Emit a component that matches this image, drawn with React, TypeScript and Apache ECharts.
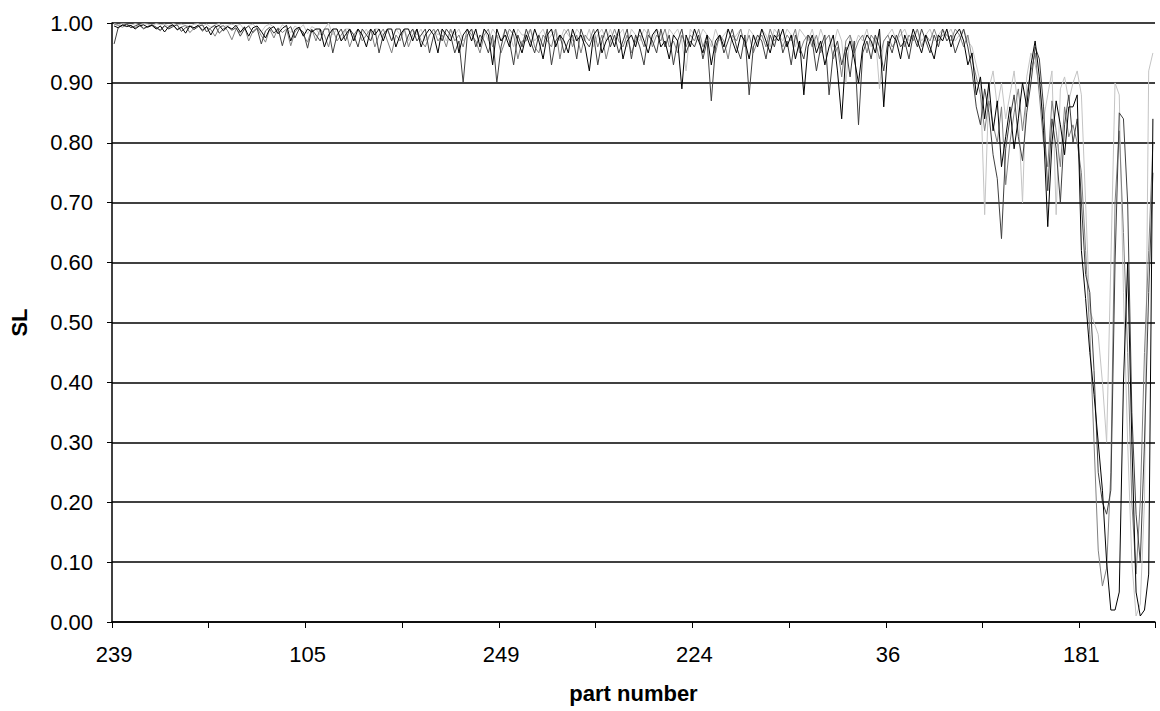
import React, { useEffect, useRef } from "react";
import * as echarts from "echarts";

// Visible part-number labels (every 46th category)
const partLabels = ["239", "105", "249", "224", "36", "181"];
const labelStep = 46;
const tickStep = 23;

// Series values (SL per part)
const seriesBlack = [
  0.995, 0.992, 0.997, 0.994, 0.996, 0.990, 0.995, 0.997, 0.993, 0.996,
  0.990, 0.995, 0.985, 0.994, 0.997, 0.989, 0.993, 0.983, 0.995,
  0.992, 0.996, 0.988, 0.994, 0.980, 0.993, 0.996, 0.987, 0.994, 0.990,
  0.996, 0.985, 0.993, 0.978, 0.992, 0.995, 0.986, 0.975, 0.990,
  0.994, 0.982, 0.991, 0.996, 0.970, 0.989, 0.993, 0.978, 0.990, 0.985,
  0.99, 0.99, 0.96, 0.98, 0.99, 0.99, 0.97, 0.98, 0.99, 0.97,
  0.99, 0.98, 0.96, 0.99, 0.98, 0.99, 0.97, 0.99, 0.99, 0.96,
  0.98, 0.99, 0.99, 0.97, 0.99, 0.96, 0.98, 0.99, 0.98, 0.95,
  0.99, 0.98, 0.97, 0.99, 0.95, 0.98, 0.99, 0.97, 0.99, 0.96,
  0.99, 0.98, 0.93, 0.99, 0.97, 0.98, 0.96, 0.99, 0.97, 0.95,
  0.98, 0.96, 0.99, 0.97, 0.94, 0.98, 0.99, 0.96, 0.98, 0.97,
  0.95, 0.99, 0.97, 0.98, 0.96, 0.92, 0.98, 0.99, 0.95, 0.97,
  0.98, 0.96, 0.99, 0.94, 0.97, 0.98, 0.96, 0.99, 0.97, 0.95,
  0.98, 0.99, 0.96, 0.97, 0.94, 0.98, 0.97, 0.89, 0.98, 0.96,
  0.99, 0.97, 0.95, 0.98, 0.93, 0.97, 0.98, 0.96, 0.99, 0.97,
  0.95, 0.98, 0.97, 0.94, 0.98, 0.96, 0.99, 0.97, 0.95, 0.98,
  0.97, 0.99, 0.96, 0.98, 0.94, 0.97, 0.88, 0.96, 0.98, 0.95,
  0.97, 0.93, 0.96, 0.98, 0.92, 0.84, 0.95, 0.97, 0.94, 0.90,
  0.96, 0.98, 0.97, 0.95, 0.99, 0.86, 0.96, 0.98, 0.97, 0.94,
  0.98, 0.96, 0.99, 0.97, 0.95, 0.98, 0.96, 0.94, 0.98, 0.97,
  0.99, 0.96, 0.98, 0.99, 0.97, 0.93, 0.95, 0.88, 0.91, 0.84,
  0.90, 0.82, 0.87, 0.76, 0.81, 0.86, 0.79, 0.84, 0.90, 0.86,
  0.93, 0.97, 0.91, 0.82, 0.66, 0.80, 0.87, 0.83, 0.78, 0.86,
  0.86, 0.88, 0.62, 0.54, 0.45, 0.38, 0.30, 0.22, 0.10, 0.02,
  0.02, 0.05, 0.40, 0.60, 0.30, 0.05, 0.01, 0.02, 0.08, 0.84,
];

const seriesDark = [
  0.965, 0.993, 0.996, 0.998, 0.992, 0.995, 0.998, 0.991, 0.994, 0.997,
  0.993, 0.988, 0.996, 0.990, 0.994, 0.997, 0.986, 0.992, 0.995,
  0.989, 0.994, 0.997, 0.985, 0.992, 0.996, 0.983, 0.990, 0.994, 0.988,
  0.992, 0.978, 0.990, 0.995, 0.984, 0.991, 0.965, 0.987, 0.993,
  0.983, 0.991, 0.962, 0.988, 0.994, 0.975, 0.990, 0.985, 0.958, 0.989,
  0.98, 0.97, 0.99, 0.99, 0.95, 0.98, 0.99, 0.97, 0.99, 0.98,
  0.96, 0.99, 0.98, 0.97, 0.99, 0.95, 0.98, 0.99, 0.97, 0.99,
  0.99, 0.96, 0.98, 0.99, 0.97, 0.98, 0.99, 0.95, 0.98, 0.99,
  0.97, 0.99, 0.98, 0.95, 0.97, 0.90, 0.98, 0.99, 0.96, 0.98,
  0.97, 0.95, 0.98, 0.90, 0.96, 0.99, 0.97, 0.93, 0.98, 0.96,
  0.99, 0.97, 0.95, 0.98, 0.96, 0.99, 0.93, 0.97, 0.98, 0.95,
  0.97, 0.98, 0.94, 0.99, 0.97, 0.96, 0.98, 0.93, 0.97, 0.99,
  0.96, 0.98, 0.95, 0.97, 0.99, 0.94, 0.98, 0.96, 0.93, 0.98,
  0.97, 0.95, 0.99, 0.96, 0.98, 0.93, 0.97, 0.99, 0.95, 0.97,
  0.96, 0.98, 0.94, 0.97, 0.87, 0.96, 0.98, 0.95, 0.97, 0.99,
  0.96, 0.94, 0.98, 0.88, 0.96, 0.98, 0.97, 0.94, 0.98, 0.96,
  0.99, 0.95, 0.97, 0.93, 0.98, 0.96, 0.94, 0.98, 0.97, 0.92,
  0.96, 0.98, 0.88, 0.95, 0.97, 0.93, 0.96, 0.91, 0.97, 0.83,
  0.95, 0.97, 0.94, 0.98, 0.96, 0.92, 0.97, 0.95, 0.98, 0.96,
  0.97, 0.94, 0.98, 0.96, 0.99, 0.97, 0.95, 0.98, 0.96, 0.99,
  0.97, 0.98, 0.95, 0.97, 0.99, 0.96, 0.92, 0.86, 0.83, 0.89,
  0.85, 0.78, 0.74, 0.64, 0.79, 0.84, 0.88, 0.81, 0.77, 0.85,
  0.90, 0.96, 0.94, 0.86, 0.72, 0.84, 0.79, 0.70, 0.83, 0.88,
  0.80, 0.84, 0.70, 0.58, 0.55, 0.42, 0.25, 0.20, 0.18, 0.22,
  0.60, 0.85, 0.84, 0.70, 0.35, 0.18, 0.10, 0.30, 0.55, 0.75,
];

const seriesGray = [
  0.998, 0.996, 0.993, 0.997, 0.995, 0.992, 0.996, 0.990, 0.994, 0.997,
  0.992, 0.987, 0.995, 0.991, 0.997, 0.988, 0.993, 0.996, 0.984,
  0.991, 0.996, 0.986, 0.993, 0.989, 0.978, 0.992, 0.996, 0.987, 0.972,
  0.990, 0.983, 0.994, 0.970, 0.986, 0.992, 0.979, 0.968, 0.990,
  0.975, 0.992, 0.984, 0.990, 0.962, 0.985, 0.993, 0.980, 0.968, 0.990,
  0.97, 0.99, 0.98, 0.96, 0.99, 0.97, 0.98, 0.99, 0.96, 0.98,
  0.99, 0.97, 0.98, 0.99, 0.96, 0.98, 0.99, 0.97, 0.95, 0.98,
  0.97, 0.99, 0.96, 0.98, 0.99, 0.97, 0.96, 0.98, 0.99, 0.97,
  0.98, 0.96, 0.99, 0.97, 0.98, 0.96, 0.99, 0.98, 0.97, 0.95,
  0.98, 0.99, 0.96, 0.98, 0.95, 0.97, 0.99, 0.98, 0.94, 0.97,
  0.97, 0.99, 0.96, 0.95, 0.98, 0.97, 0.96, 0.99, 0.94, 0.98,
  0.99, 0.96, 0.98, 0.95, 0.98, 0.97, 0.99, 0.96, 0.98, 0.94,
  0.97, 0.99, 0.97, 0.96, 0.98, 0.95, 0.97, 0.98, 0.96, 0.99,
  0.96, 0.98, 0.97, 0.99, 0.96, 0.97, 0.95, 0.98, 0.96, 0.98,
  0.97, 0.99, 0.96, 0.98, 0.97, 0.95, 0.98, 0.97, 0.94, 0.98,
  0.97, 0.99, 0.96, 0.98, 0.95, 0.97, 0.98, 0.96, 0.99, 0.97,
  0.98, 0.96, 0.98, 0.97, 0.99, 0.95, 0.97, 0.98, 0.96, 0.98,
  0.95, 0.97, 0.98, 0.94, 0.96, 0.91, 0.97, 0.98, 0.95, 0.97,
  0.98, 0.95, 0.98, 0.97, 0.94, 0.97, 0.98, 0.96, 0.97, 0.99,
  0.96, 0.98, 0.97, 0.99, 0.96, 0.98, 0.97, 0.99, 0.97, 0.98,
  0.98, 0.97, 0.99, 0.98, 0.96, 0.98, 0.94, 0.91, 0.88, 0.82,
  0.87, 0.83, 0.80, 0.86, 0.73, 0.80, 0.85, 0.89, 0.82, 0.88,
  0.92, 0.95, 0.88, 0.80, 0.76, 0.87, 0.82, 0.76, 0.86, 0.81,
  0.83, 0.80, 0.75, 0.62, 0.48, 0.30, 0.12, 0.06, 0.09, 0.25,
  0.70, 0.82, 0.65, 0.45, 0.20, 0.08, 0.20, 0.45, 0.62, 0.80,
];

const seriesLight = [
  0.999, 0.997, 0.999, 0.998, 0.996, 0.999, 0.997, 0.999, 0.998, 0.996,
  0.999, 0.997, 0.998, 0.995, 0.999, 0.997, 0.998, 0.996, 0.994,
  0.998, 0.999, 0.995, 0.998, 0.993, 0.997, 0.999, 0.994, 0.996, 0.998,
  0.995, 0.998, 0.988, 0.996, 0.998, 0.992, 0.985, 0.995, 0.998,
  0.993, 0.986, 0.997, 0.992, 0.984, 0.995, 0.990, 0.997, 0.982, 0.994,
  0.99, 0.98, 0.99, 1.00, 0.98, 0.99, 0.97, 0.99, 0.99, 0.98,
  0.99, 0.98, 0.99, 0.97, 0.99, 0.99, 0.98, 0.99, 0.97, 0.99,
  0.98, 0.99, 0.97, 0.99, 0.98, 0.99, 0.97, 0.98, 0.99, 0.98,
  0.99, 0.97, 0.99, 0.98, 0.99, 0.97, 0.98, 0.99, 0.98, 0.97,
  0.99, 0.97, 0.99, 0.98, 0.97, 0.99, 0.98, 0.96, 0.99, 0.98,
  0.98, 0.99, 0.97, 0.98, 0.99, 0.97, 0.98, 0.99, 0.97, 0.99,
  0.98, 0.97, 0.99, 0.98, 0.97, 0.99, 0.96, 0.98, 0.99, 0.97,
  0.99, 0.97, 0.98, 0.99, 0.96, 0.99, 0.98, 0.97, 0.99, 0.98,
  0.97, 0.99, 0.98, 0.96, 0.99, 0.98, 0.99, 0.97, 0.92, 0.99,
  0.98, 0.97, 0.99, 0.98, 0.96, 0.99, 0.97, 0.98, 0.99, 0.97,
  0.98, 0.99, 0.96, 0.99, 0.98, 0.97, 0.99, 0.98, 0.96, 0.99,
  0.98, 0.97, 0.99, 0.98, 0.96, 0.99, 0.98, 0.97, 0.99, 0.96,
  0.99, 0.97, 0.98, 0.96, 0.99, 0.97, 0.90, 0.98, 0.96, 0.98,
  0.97, 0.99, 0.96, 0.98, 0.89, 0.97, 0.98, 0.99, 0.97, 0.98,
  0.99, 0.97, 0.98, 0.99, 0.97, 0.98, 0.99, 0.97, 0.98, 0.99,
  0.98, 0.99, 0.97, 0.98, 0.99, 0.97, 0.96, 0.93, 0.90, 0.68,
  0.89, 0.92, 0.86, 0.90, 0.84, 0.88, 0.92, 0.85, 0.70, 0.91,
  0.95, 0.93, 0.90, 0.84, 0.88, 0.92, 0.68, 0.89, 0.91, 0.87,
  0.90, 0.92, 0.88, 0.70, 0.52, 0.50, 0.48, 0.40, 0.30, 0.60,
  0.90, 0.88, 0.55, 0.30, 0.10, 0.01, 0.03, 0.20, 0.92, 0.95,
];

const yTicks = [0, 0.1, 0.2, 0.3, 0.4, 0.5, 0.6, 0.7, 0.8, 0.9, 1.0];

const FONT = "'Liberation Sans', Arial, sans-serif";

export default function App() {
  const ref = useRef<HTMLDivElement>(null);

  useEffect(() => {
    if (!ref.current) return;
    const chart = echarts.init(ref.current, undefined, { renderer: "svg" });
    const n = seriesBlack.length;
    const categories = Array.from({ length: n }, (_, i) =>
      i % labelStep === 0 && partLabels[i / labelStep] !== undefined
        ? partLabels[i / labelStep]
        : "#" + i
    );
    const mk = (name: string, data: number[], color: string) => ({
      name,
      type: "line",
      data,
      symbol: "none",
      showSymbol: false,
      lineStyle: { color, width: 1 },
      itemStyle: { color },
      emphasis: { disabled: true },
    });
    chart.setOption({
      animation: false,
      backgroundColor: "#ffffff",
      grid: { left: 107, right: 5, top: 23, bottom: 89, containLabel: false },
      xAxis: {
        type: "category",
        data: categories,
        boundaryGap: true,
        name: "part number",
        nameLocation: "middle",
        nameGap: 60,
        nameTextStyle: { fontFamily: FONT, fontSize: 22, fontWeight: "bold", color: "#000" },
        axisLine: { show: true, lineStyle: { color: "#000", width: 1.5 } },
        axisTick: { show: true, interval: tickStep - 1, length: 6, lineStyle: { color: "#000", width: 1 } },
        axisLabel: {
          interval: labelStep - 1,
          color: "#000",
          fontFamily: FONT,
          fontSize: 22,
          margin: 21,
        },
        splitLine: { show: false },
      },
      yAxis: {
        type: "value",
        min: yTicks[0],
        max: yTicks[yTicks.length - 1],
        interval: 0.1,
        name: "SL",
        nameLocation: "middle",
        nameGap: 82,
        nameTextStyle: { fontFamily: FONT, fontSize: 22, fontWeight: "bold", color: "#000" },
        axisLine: { show: true, lineStyle: { color: "#000", width: 1.5 } },
        axisTick: { show: true, length: 5, lineStyle: { color: "#000" } },
        axisLabel: {
          color: "#000",
          fontFamily: FONT,
          fontSize: 22,
          margin: 19,
          formatter: (v: number) => v.toFixed(2),
        },
        splitLine: { show: true, lineStyle: { color: "#000", width: 1.5 } },
      },
      series: [
        mk("S4", seriesLight, "#c4c4c4"),
        mk("S3", seriesGray, "#808080"),
        mk("S2", seriesDark, "#404040"),
        mk("S1", seriesBlack, "#000000"),
      ],
    });
    return () => chart.dispose();
  }, []);

  return (
    <div
      ref={ref}
      style={{ position: "fixed", left: 0, top: 0, width: 1160, height: 711, background: "#fff" }}
    />
  );
}
